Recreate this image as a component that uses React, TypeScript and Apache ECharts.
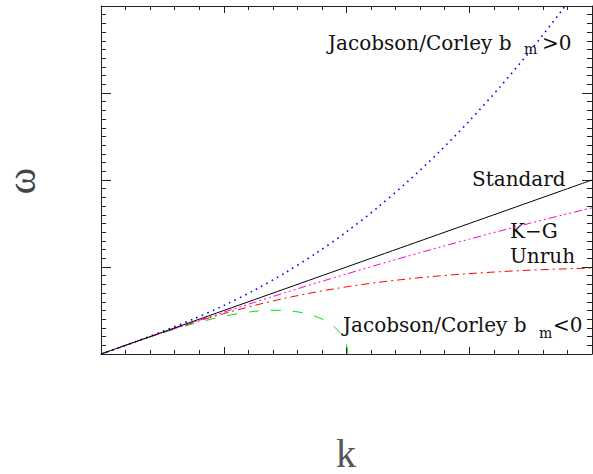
import React, { useEffect, useRef } from "react";
import * as echarts from "echarts";

// wavenumber grid (k) and dispersion values (omega)
const kGrid = [0, 0.25, 0.5, 0.75, 1.0, 1.25, 1.5, 1.75, 2.0, 2.25, 2.5, 2.75, 3.0, 3.25, 3.5, 3.75, 4.0];
const standardW = [0, 0.125, 0.25, 0.375, 0.5, 0.625, 0.75, 0.875, 1.0, 1.125, 1.25, 1.375, 1.5, 1.625, 1.75, 1.875, 2.0];
const jcPlusW = [0, 0.126, 0.258, 0.4, 0.557, 0.734, 0.933, 1.156, 1.404, 1.68, 1.984, 2.316, 2.678, 3.069, 3.49, 3.941, 4.422];
const kgW = [0, 0.124, 0.245, 0.364, 0.48, 0.594, 0.705, 0.814, 0.92, 1.024, 1.125, 1.224, 1.32, 1.414, 1.505, 1.594, 1.68];
const unruhW = [0, 0.124, 0.245, 0.359, 0.464, 0.558, 0.641, 0.712, 0.772, 0.822, 0.863, 0.897, 0.924, 0.946, 0.964, 0.977, 0.988];

const kMinus = [0, 0.25, 0.5, 0.75, 1.0, 1.1, 1.25, 1.4, 1.5, 1.6, 1.7, 1.8, 1.85, 1.9, 1.95, 1.98, 2.0, 2.012];
const jcMinusW = [0, 0.124, 0.242, 0.348, 0.434, 0.46, 0.49, 0.503, 0.5, 0.485, 0.455, 0.402, 0.364, 0.313, 0.24, 0.176, 0.11, 0];

const xTicks = { min: 0, max: 4, interval: 1, minorSplit: 5 };
const yTicks = { min: 0, max: 4, interval: 1, minorSplit: 10 };

const pairs = (ks: number[], ws: number[]) => ks.map((k, i) => [k, ws[i]]);

const AXIS_COLOR = "#222";

function xAxisDef(position: "top" | "bottom") {
  return {
    type: "value",
    position,
    min: xTicks.min,
    max: xTicks.max,
    interval: xTicks.interval,
    axisLine: { show: true, onZero: false, lineStyle: { color: AXIS_COLOR, width: 1 } },
    axisTick: { show: true, inside: true, length: 7, lineStyle: { color: AXIS_COLOR } },
    minorTick: { show: true, splitNumber: xTicks.minorSplit, length: 4, lineStyle: { color: AXIS_COLOR } },
    axisLabel: { show: false },
    splitLine: { show: false },
    minorSplitLine: { show: false },
  };
}

function yAxisDef(position: "left" | "right") {
  return {
    type: "value",
    position,
    min: yTicks.min,
    max: yTicks.max,
    interval: yTicks.interval,
    axisLine: { show: true, onZero: false, lineStyle: { color: AXIS_COLOR, width: 1 } },
    axisTick: { show: true, inside: true, length: 10, lineStyle: { color: AXIS_COLOR } },
    minorTick: { show: true, splitNumber: yTicks.minorSplit, length: 5, lineStyle: { color: AXIS_COLOR } },
    axisLabel: { show: false },
    splitLine: { show: false },
    minorSplitLine: { show: false },
  };
}

const FONT = "20px 'DejaVu Serif'";
const SUBFONT = "14px 'DejaVu Serif'";

export default function App() {
  const ref = useRef<HTMLDivElement>(null);
  useEffect(() => {
    document.body.style.margin = "0";
    const chart = echarts.init(ref.current!, null, { renderer: "svg" });
    const lineSeries = (name: string, data: number[][], color: string, type: any, width = 1) => ({
      name,
      type: "line",
      data,
      showSymbol: false,
      smooth: 0.3,
      clip: true,
      lineStyle: { color, width, type },
      silent: true,
    });
    const txt = (text: string, x: number, y: number, font = FONT) => ({
      type: "text",
      x,
      y,
      silent: true,
      style: { text, font, fill: "#111", textAlign: "left", textVerticalAlign: "middle" },
    });
    chart.setOption({
      animation: false,
      backgroundColor: "#fff",
      grid: { left: 101, top: 6, right: 1, bottom: 120, containLabel: false },
      xAxis: [xAxisDef("bottom"), xAxisDef("top")],
      yAxis: [yAxisDef("left"), yAxisDef("right")],
      series: [
        lineSeries("Jacobson/Corley bm<0", pairs(kMinus, jcMinusW), "#00e000", [10, 12], 1),
        lineSeries("Unruh", pairs(kGrid, unruhW), "#ff0000", [8, 4, 2, 4], 1),
        lineSeries("K-G", pairs(kGrid, kgW), "#ff00cc", [8, 3, 2, 3, 2, 3, 2, 3], 1),
        lineSeries("Jacobson/Corley bm>0", pairs(kGrid, jcPlusW), "#0000ff", [1.6, 4.4], 1.6),
        lineSeries("Standard", pairs(kGrid, standardW), "#000000", "solid", 1),
      ],
      graphic: [
        txt("Jacobson/Corley b", 328, 43),
        txt("m", 524, 48.5, SUBFONT),
        txt(">0", 542, 43),
        txt("Standard", 472, 179),
        txt("K\u2212G", 510, 231),
        txt("Unruh", 510, 256),
        txt("Jacobson/Corley b", 343, 325),
        txt("m", 539, 333, SUBFONT),
        txt("<0", 553, 325),
        {
          type: "text",
          x: 21,
          y: 181,
          rotation: Math.PI / 2,
          silent: true,
          style: {
            text: "\u03c9",
            font: "40px 'Liberation Serif'",
            fill: "#444",
            textAlign: "center",
            textVerticalAlign: "middle",
          },
        },
        {
          type: "text",
          x: 346,
          y: 453,
          silent: true,
          style: {
            text: "k",
            font: "40px 'Liberation Serif'",
            fill: "#555",
            textAlign: "center",
            textVerticalAlign: "middle",
          },
        },
      ],
    });
    return () => chart.dispose();
  }, []);
  return <div ref={ref} style={{ position: "fixed", left: 0, top: 0, width: 593, height: 474 }} />;
}
